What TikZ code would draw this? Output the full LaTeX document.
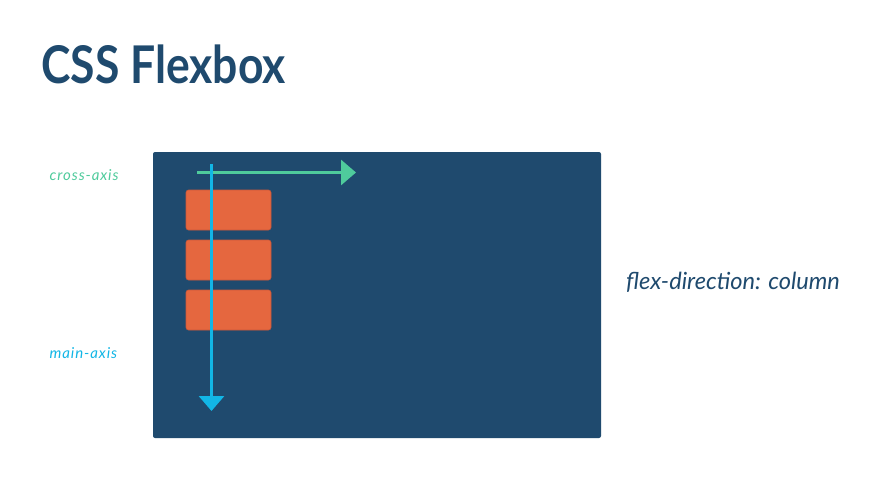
\documentclass[tikz,border=0pt]{standalone}
\usepackage{fontspec}
\setmainfont{Lato}
\usetikzlibrary{arrows.meta}
\definecolor{navy}{HTML}{1F4A6E}
\definecolor{boxorange}{HTML}{E5673F}
\definecolor{boxedge}{HTML}{C9573A}
\definecolor{mint}{HTML}{4FCB9C}
\definecolor{sky}{HTML}{12B6E6}
\tikzset{
  item/.style={fill=boxorange, draw=boxedge, line width=0.6pt, rounded corners=2.5pt},
  axisline/.style={line width=3pt},
  lbl/.style={inner sep=0pt, anchor=base west},
  axislbl/.style={lbl, font=\fontsize{15}{17}\selectfont\itshape\addfontfeatures{LetterSpace=6}},
}
\begin{document}
\begin{tikzpicture}[x=1pt,y=-1pt]
\useasboundingbox[fill=white] (0,0) rectangle (875,492);
\node[anchor=base west, inner sep=0pt, text=navy, font=\fontsize{52}{60}\selectfont\bfseries] (title) at (41,83.5) {\scalebox{0.855}[1]{CSS Flexbox}};
\fill[navy, rounded corners=2pt] (153,152) rectangle (601,438);
\coordinate (container) at (377,295);
\draw[item] (186,190) rectangle (271,230);
\draw[item] (186,240) rectangle (271,280);
\draw[item] (186,290) rectangle (271,330);
\coordinate (gs) at (197,172.5);
\coordinate (ge) at (356,172.5);
\coordinate (cs) at (211.5,164);
\coordinate (ce) at (211.5,411);
\draw[axisline, mint, -{Triangle[length=15pt,width=25pt]}] (gs) -- (ge);
\draw[axisline, sky, -{Triangle[length=15pt,width=25pt]}] (cs) -- (ce);
\node[axislbl, text=mint] (cross) at (49.5,180.5) {cross-axis};
\node[axislbl, text=sky] (main) at (49.5,358) {main-axis};
\node[lbl, text=navy, font=\fontsize{23.6}{26}\selectfont\itshape] (dir) at (626,289) {flex-direction: column};
\end{tikzpicture}
\end{document}
